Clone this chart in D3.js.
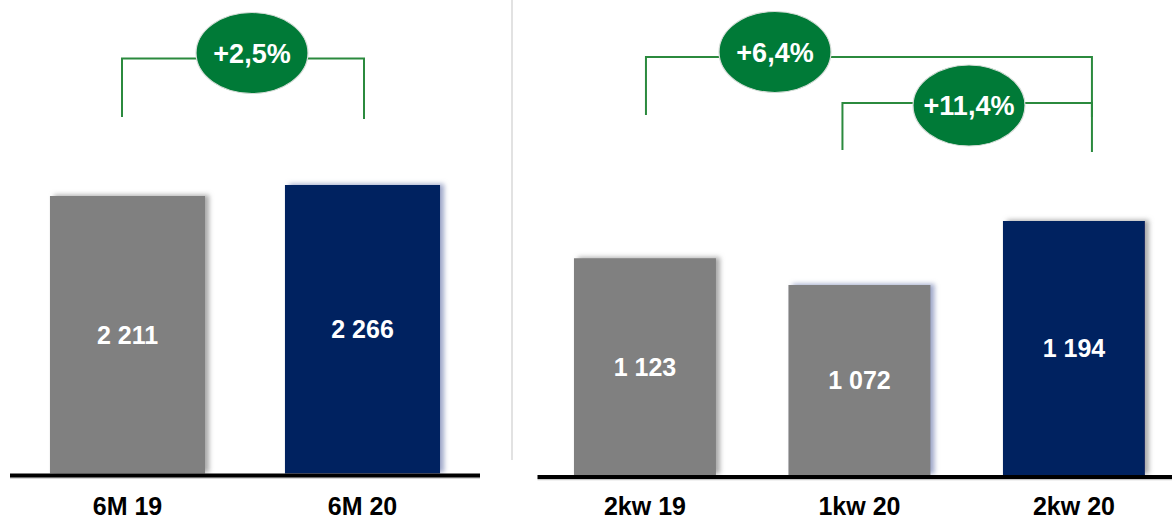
<!DOCTYPE html>
<html>
<head>
<meta charset="utf-8">
<script src="https://cdn.jsdelivr.net/npm/d3@7"></script>
<style>
  html, body { margin: 0; padding: 0; background: #ffffff; }
  svg { display: block; font-family: "Liberation Sans", Arial, sans-serif; }
</style>
</head>
<body>
<svg id="chart" width="1172" height="520"></svg>
<script>
// Half-year comparison (left) and quarterly comparison (right)
const halfCategories = ["6M 19", "6M 20"];
const halfValues = [2211, 2266];
const halfLabels = ["2 211", "2 266"];

const quarterCategories = ["2kw 19", "1kw 20", "2kw 20"];
const quarterValues = [1123, 1072, 1194];
const quarterLabels = ["1 123", "1 072", "1 194"];

// Growth bubbles: label plus the two categories they connect
const halfChanges = [{ label: "+2,5%", from: "6M 19", to: "6M 20" }];
const quarterChanges = [
  { label: "+6,4%", from: "2kw 19", to: "2kw 20" },
  { label: "+11,4%", from: "1kw 20", to: "2kw 20" }
];

const GREY = "#808080";
const NAVY = "#002060";
const GREEN = "#007a37";
const LINE_GREEN = "#2b8a3e";

const svg = d3.select("#chart");
const defs = svg.append("defs");

function shadow(id, color, opacity) {
  const f = defs.append("filter").attr("id", id)
    .attr("x", "-10%").attr("y", "-10%").attr("width", "125%").attr("height", "125%");
  f.append("feDropShadow").attr("dx", 4).attr("dy", -1).attr("stdDeviation", 2.5)
    .attr("flood-color", color).attr("flood-opacity", opacity);
}
shadow("shGrey", "#8c8c8c", 0.75);
shadow("shBlue", "#7f8bb8", 0.75);

// Panel divider
svg.append("line")
  .attr("x1", 512).attr("x2", 512).attr("y1", 0).attr("y2", 460)
  .attr("stroke", "#e2e2e2").attr("stroke-width", 2);

function panel(cfg) {
  const x = d3.scaleBand().domain(cfg.categories).range(cfg.xRange)
    .paddingInner(cfg.padInner).paddingOuter(cfg.padOuter);
  const y = d3.scaleLinear().domain(cfg.yDomain).range([cfg.base, cfg.yTop]);
  const g = svg.append("g");

  const data = cfg.categories.map((c, i) => ({ c, v: cfg.values[i], label: cfg.labels[i], i }));

  g.selectAll("rect.bar").data(data).enter().append("rect")
    .attr("class", "bar")
    .attr("x", d => x(d.c))
    .attr("width", x.bandwidth())
    .attr("y", d => y(d.v))
    .attr("height", d => cfg.base - y(d.v))
    .attr("fill", d => cfg.colors[d.i])
    .attr("filter", d => `url(#${cfg.shadows[d.i]})`);

  g.selectAll("text.val").data(data).enter().append("text")
    .attr("class", "val")
    .attr("x", d => x(d.c) + x.bandwidth() / 2)
    .attr("y", d => (y(d.v) + cfg.base) / 2)
    .attr("dy", "0.36em")
    .attr("text-anchor", "middle")
    .attr("fill", "#ffffff")
    .attr("font-weight", "bold")
    .attr("font-size", 25)
    .text(d => d.label);

  // Baseline with its faint under-shadow
  g.append("line")
    .attr("x1", cfg.lineX[0]).attr("x2", cfg.lineX[1])
    .attr("y1", cfg.base + 4.5).attr("y2", cfg.base + 4.5)
    .attr("stroke", "#c8c8c8").attr("stroke-width", 1.5);
  g.append("line")
    .attr("x1", cfg.lineX[0]).attr("x2", cfg.lineX[1])
    .attr("y1", cfg.base + 2).attr("y2", cfg.base + 2)
    .attr("stroke", "#000000").attr("stroke-width", 4);

  // Category axis
  const axis = d3.axisBottom(x).tickSize(0).tickPadding(0);
  const ax = g.append("g").attr("transform", `translate(0,${cfg.base})`).call(axis);
  ax.select(".domain").remove();
  ax.selectAll("text")
    .attr("y", cfg.labelY)
    .attr("dy", 0)
    .attr("fill", "#000000")
    .attr("font-size", 25)
    .attr("font-weight", "bold")
    .attr("font-family", "'Liberation Sans', Arial, sans-serif");

  // Growth brackets
  cfg.changes.forEach((ch, k) => {
    const b = cfg.brackets[k];
    const xa = x(ch.from) + x.bandwidth() / 2 + b.dxFrom;
    const xb = x(ch.to) + x.bandwidth() / 2 + b.dxTo;
    const path = d3.path();
    path.moveTo(xa, b.yEndFrom);
    path.lineTo(xa, b.y);
    path.lineTo(xb, b.y);
    path.lineTo(xb, b.yEndTo);
    g.append("path").attr("d", path.toString())
      .attr("fill", "none").attr("stroke", LINE_GREEN).attr("stroke-width", 2);
    g.append("ellipse")
      .attr("cx", b.cx).attr("cy", b.cy).attr("rx", 56).attr("ry", 40.5)
      .attr("fill", GREEN).attr("stroke", "#d6ddd8").attr("stroke-width", 1.2);
    g.append("text")
      .attr("x", b.cx).attr("y", b.cy).attr("dy", "0.36em")
      .attr("text-anchor", "middle").attr("fill", "#ffffff")
      .attr("font-weight", "bold").attr("font-size", 27)
      .text(ch.label);
  });
}

panel({
  categories: halfCategories, values: halfValues, labels: halfLabels,
  colors: [GREY, NAVY], shadows: ["shGrey", "shBlue"],
  xRange: [10, 480], padInner: 0.34, padOuter: 0.17,
  yDomain: [823.5, 2266], base: 473.5, yTop: 185,
  lineX: [10, 480], labelY: 41,
  changes: halfChanges,
  brackets: [{ dxFrom: -5.5, dxTo: 1.5, y: 58.5, yEndFrom: 117, yEndTo: 119, cx: 252, cy: 53 }]
});

panel({
  categories: quarterCategories, values: quarterValues, labels: quarterLabels,
  colors: [GREY, GREY, NAVY], shadows: ["shGrey", "shBlue", "shGrey"],
  xRange: [537.5, 1181.4], padInner: 0.338, padOuter: 0.17,
  yDomain: [709.8, 1194], base: 475, yTop: 221,
  lineX: [537.5, 1172], labelY: 39.5,
  changes: quarterChanges,
  brackets: [
    { dxFrom: 1, dxTo: 18, y: 57, yEndFrom: 115, yEndTo: 117, cx: 775, cy: 52 },
    { dxFrom: -17, dxTo: 18, y: 103, yEndFrom: 150, yEndTo: 152, cx: 969, cy: 105.5 }
  ]
});
</script>
</body>
</html>
